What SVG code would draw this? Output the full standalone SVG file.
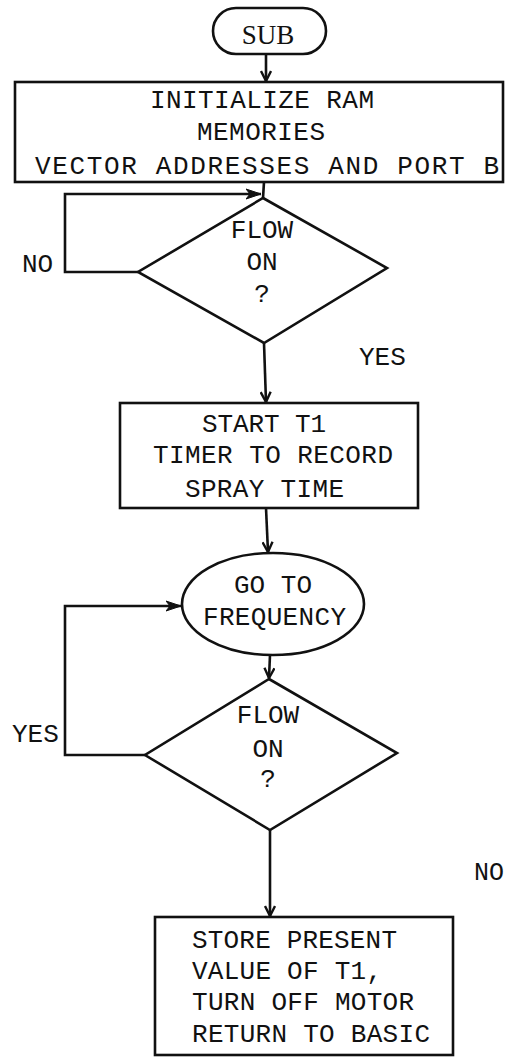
<svg xmlns="http://www.w3.org/2000/svg" width="506" height="1057" viewBox="0 0 506 1057">
  <defs>
    <style>
      .shape { fill: none; stroke: #111; stroke-width: 2.6; stroke-linejoin: miter; }
      .conn { fill: none; stroke: #111; stroke-width: 2.6; }
      .t { font-family: "Liberation Mono", "Courier New", monospace; font-size: 26px; fill: #111; }
      .c { text-anchor: middle; }
      .sub { font-family: "Liberation Serif", "Times New Roman", serif; font-size: 27px; fill: #111; text-anchor: middle; }
    </style>
    <marker id="arr" viewBox="0 0 12 12" refX="11" refY="6" markerWidth="12" markerHeight="12" markerUnits="userSpaceOnUse" orient="auto">
      <path d="M1,1 L11,6 L1,11" fill="none" stroke="#111" stroke-width="2.4"/>
    </marker>
    <marker id="arrf" viewBox="0 0 16 12" refX="15" refY="6" markerWidth="16" markerHeight="12" markerUnits="userSpaceOnUse" orient="auto">
      <path d="M0,1 L15,6 L0,11 L4,6 Z" fill="#111" stroke="#111" stroke-width="1"/>
    </marker>
  </defs>
  <rect width="506" height="1057" fill="#ffffff"/>

  <g id="connectors">
    <line class="conn" x1="266" y1="54" x2="266" y2="81" marker-end="url(#arr)"/>
    <line class="conn" x1="264" y1="182" x2="263" y2="198"/>
    <polyline class="conn" points="138,272 65,272 65,194 261,194" marker-end="url(#arrf)"/>
    <line class="conn" x1="264" y1="343" x2="266" y2="402" marker-end="url(#arr)"/>
    <line class="conn" x1="266" y1="508" x2="268" y2="552" marker-end="url(#arr)"/>
    <polyline class="conn" points="145,755 65,755 65,606 181,606" marker-end="url(#arrf)"/>
    <line class="conn" x1="270" y1="655" x2="269" y2="678" marker-end="url(#arr)"/>
    <line class="conn" x1="270" y1="830" x2="270" y2="916" marker-end="url(#arr)"/>
  </g>

  <g id="sub">
    <rect class="shape" x="213" y="8" width="113" height="46" rx="23" ry="23"/>
    <text class="sub" x="268" y="44">SUB</text>
  </g>

  <g id="init">
    <rect class="shape" x="15" y="82" width="488" height="100"/>
    <text class="t" x="150" y="108" textLength="224" lengthAdjust="spacing">INITIALIZE RAM</text>
    <text class="t" x="197" y="140" textLength="128" lengthAdjust="spacing">MEMORIES</text>
    <text class="t" x="35" y="174" textLength="464" lengthAdjust="spacing">VECTOR ADDRESSES AND PORT B</text>
  </g>

  <g id="decision1">
    <polygon class="shape" points="263,198 387,268 264,343 138,272"/>
    <text class="t c" x="262" y="238">FLOW</text>
    <text class="t c" x="262" y="270">ON</text>
    <text class="t c" x="262" y="302">?</text>
  </g>

  <g id="label-no1">
    <text class="t" x="22" y="272">NO</text>
  </g>
  <g id="label-yes1">
    <text class="t" x="359" y="365">YES</text>
  </g>

  <g id="start-timer">
    <rect class="shape" x="120" y="403" width="298" height="105"/>
    <text class="t" x="202" y="432" textLength="124" lengthAdjust="spacing">START T1</text>
    <text class="t" x="153" y="463" textLength="240" lengthAdjust="spacing">TIMER TO RECORD</text>
    <text class="t" x="185" y="497" textLength="159" lengthAdjust="spacing">SPRAY TIME</text>
  </g>

  <g id="goto-frequency">
    <ellipse class="shape" cx="273" cy="604" rx="91" ry="51"/>
    <text class="t c" x="273" y="593">GO TO</text>
    <text class="t" x="203" y="625" textLength="143" lengthAdjust="spacing">FREQUENCY</text>
  </g>

  <g id="decision2">
    <polygon class="shape" points="269,679 397,753 270,830 145,755"/>
    <text class="t c" x="268" y="723">FLOW</text>
    <text class="t c" x="268" y="757">ON</text>
    <text class="t c" x="268" y="787">?</text>
  </g>

  <g id="label-yes2">
    <text class="t" x="12" y="742">YES</text>
  </g>
  <g id="label-no2">
    <text class="t" x="474" y="880" textLength="30" lengthAdjust="spacingAndGlyphs">NO</text>
  </g>

  <g id="store">
    <rect class="shape" x="155" y="917" width="298" height="138"/>
    <text class="t" x="192" y="948" textLength="205" lengthAdjust="spacing">STORE PRESENT</text>
    <text class="t" x="192" y="979" textLength="190" lengthAdjust="spacing">VALUE OF T1,</text>
    <text class="t" x="192" y="1010" textLength="222" lengthAdjust="spacing">TURN OFF MOTOR</text>
    <text class="t" x="192" y="1042" textLength="238" lengthAdjust="spacing">RETURN TO BASIC</text>
  </g>
</svg>
